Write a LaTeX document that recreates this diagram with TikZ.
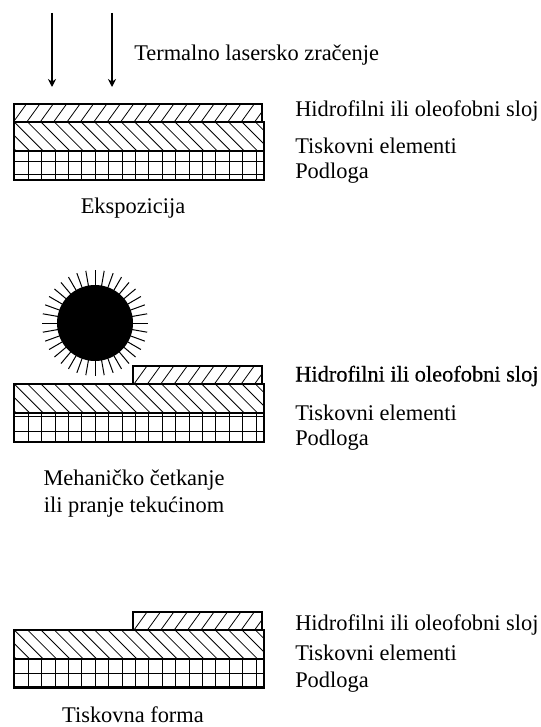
\documentclass[tikz,border=0pt]{standalone}
\usepackage{fontspec}
\setmainfont{Liberation Serif}
\newfontfamily\darkserif[FakeBold=0.5]{Liberation Serif}
\usetikzlibrary{arrows.meta}
\newcommand{\oleoHatch}[3]{% x left, x right, y top
    \begin{scope}
        \clip (#1,#3) rectangle (#2,#3+18);
        \foreach \hx in {0,13.4,...,280} {\draw[hatchline] (\hx,#3+18) -- (\hx+13,#3);}
    \end{scope}
    \draw[layerline] (#1,#3+18) -- (#1,#3) -- (#2,#3) -- (#2,#3+18);
}
\newcommand{\baseHatch}[1]{% y top
    \begin{scope}
        \clip (14,#1) rectangle (264,#1+29);
        \foreach \hx in {-26,-12.6,...,264} {\draw[hatchline] (\hx,#1) -- (\hx+29,#1+29);}
    \end{scope}
    \draw[layerline] (14,#1) rectangle (264,#1+29);
}
\newcommand{\gridLayer}[1]{% y top
    \foreach \gx in {28.3,41.7,...,260} {\draw[gridline] (\gx,#1) -- (\gx,#1+29);}
    \draw[layerline] (14,#1) rectangle (264,#1+29);
}
\tikzset{
    x=0.75pt, y=-0.75pt,
    hatchline/.style={line width=0.6pt},
    layerline/.style={line width=0.85pt},
    gridline/.style={line width=0.75pt},
    layertext/.style={anchor=west, font=\fontsize{16.8pt}{18pt}\selectfont, inner sep=0pt},
    captiontext/.style={anchor=center, font=\fontsize{16.8pt}{18pt}\selectfont, inner sep=0pt},
    laserarrow/.style={line width=0.8pt, -{Stealth[length=6pt,width=6pt]}},
}
\begin{document}
\begin{tikzpicture}
    \useasboundingbox (0,0) rectangle (540,727);
    % Ekspozicija
    \coordinate (laserA) at (52,13);
    \coordinate (laserB) at (112,13);
    \coordinate (targetA) at (52,87);
    \coordinate (targetB) at (112,87);
    \draw[laserarrow] (laserA) -- (targetA);
    \draw[laserarrow] (laserB) -- (targetB);
    \node[layertext] (laser) at (134,55) {Termalno lasersko zračenje};
    \oleoHatch{14}{262}{104}
    \draw[layerline] (14,122) -- (262,122);
    \baseHatch{122}
    \gridLayer{151}
    \draw[gridline] (14,162) -- (264,162);
    \draw[gridline] (14,175) -- (264,175);
    \node[layertext] (slojA) at (295,111) {Hidrofilni ili oleofobni sloj};
    \node[layertext] (tiskA) at (295,146) {Tiskovni elementi};
    \node[layertext] (podA)  at (295,173) {Podloga};
    \node[captiontext] (ekspo) at (133,208) {Ekspozicija};
    % Mehanicko cetkanje
    \foreach \ang in {0,10,...,350} {\draw[line width=0.75pt] (95,323) -- ++(\ang:53);}
    \fill[black] (95,323) circle (38);
    \oleoHatch{133}{262}{366}
    \baseHatch{384}
    \gridLayer{413}
    \draw[gridline] (14,416) -- (264,416);
    \draw[gridline] (14,431) -- (264,431);
    \node[layertext, font=\fontsize{16.8pt}{18pt}\darkserif] (slojB) at (295,376) {Hidrofilni ili oleofobni sloj};
    \node[layertext] (tiskB) at (295,413) {Tiskovni elementi};
    \node[layertext] (podB)  at (295,440) {Podloga};
    \node[captiontext] (mehan) at (134,480) {Mehaničko četkanje};
    \node[captiontext] (pranje) at (134,507) {ili pranje tekućinom};
    % Tiskovna forma
    \oleoHatch{133}{262}{612}
    \baseHatch{630}
    \gridLayer{659}
    \draw[gridline] (14,673) -- (264,673);
    \draw[line width=1.3pt] (14,687) -- (264,687);
    \node[layertext] (slojC) at (295,625) {Hidrofilni ili oleofobni sloj};
    \node[layertext] (tiskC) at (295,653) {Tiskovni elementi};
    \node[layertext] (podC)  at (295,682) {Podloga};
    \node[captiontext] (forma) at (133,715) {Tiskovna forma};
\end{tikzpicture}
\end{document}
